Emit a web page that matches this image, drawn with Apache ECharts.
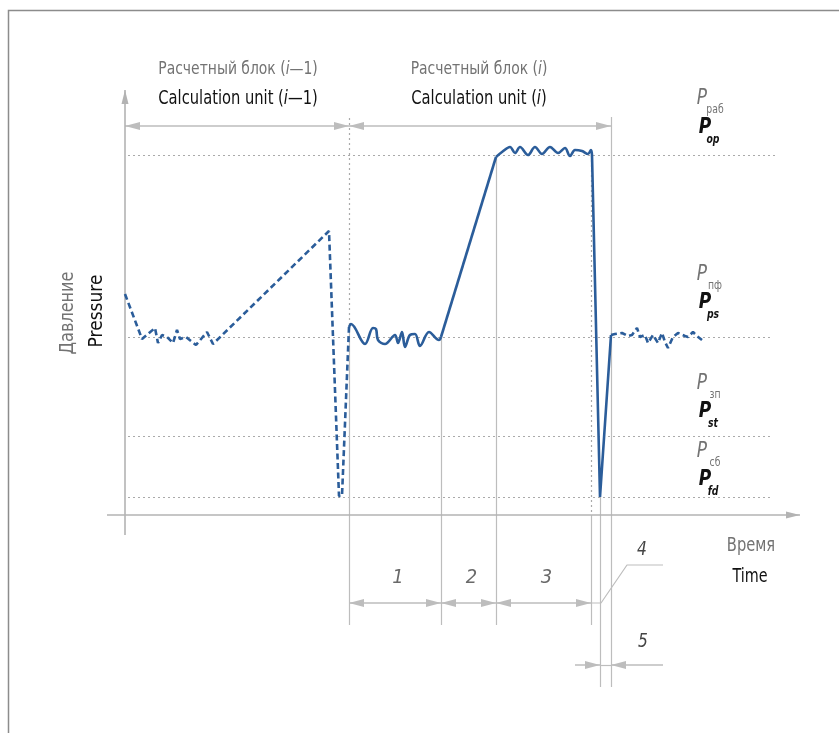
<!DOCTYPE html>
<html><head><meta charset="utf-8">
<script src="https://cdn.jsdelivr.net/npm/echarts@6/dist/echarts.min.js"></script>
<style>html,body{margin:0;padding:0;background:#fff}#c{width:839px;height:733px}</style>
</head><body><div id="c"></div>
<script>
// ---- data (time t, pressure p in arbitrary units) ----
const prevBlock = [[0.0,22.1],[1.7,17.6],[3.0,18.7],[3.3,17.2],[3.7,18.0],[4.2,17.8],[4.8,17.2],[5.2,18.5],[5.5,17.6],[6.1,17.8],[7.1,17.0],[8.2,18.3],[8.8,17.1],[20.4,28.4],[21.4,1.9],[21.7,1.9],[22.4,18.8]];
const blockWiggle1 = [[22.4,18.8],[22.6,19.1],[24.0,17.1],[24.8,18.7],[25.1,18.6],[25.3,17.5],[26.0,17.1],[27.0,18.0],[27.3,17.2],[27.7,18.3],[28.0,16.8],[28.5,18.0],[29.0,18.1],[29.5,16.9],[30.4,18.3],[31.4,17.5],[31.6,17.8]];
const blockRamp = [[31.6,17.8],[37.1,35.8]];
const blockWiggle2 = [[37.1,35.8],[37.7,36.3],[38.5,36.8],[39.0,36.2],[39.5,36.8],[40.3,36.0],[41.0,36.8],[41.7,36.1],[42.5,36.8],[43.3,36.2],[44.0,36.7],[44.5,35.9],[45.0,36.5],[45.7,36.4],[46.3,36.1],[46.6,36.5],[46.7,36.0]];
const blockDrop = [[46.7,36.0],[47.5,1.8],[48.6,18.0]];
const nextBlock = [[48.6,18.0],[49.0,18.1],[49.7,18.2],[50.3,17.9],[50.7,18.0],[51.2,18.7],[51.5,17.8],[52.0,18.0],[52.3,17.2],[52.8,18.0],[53.3,17.2],[53.7,18.2],[54.0,17.3],[54.3,16.7],[54.8,17.8],[55.3,18.2],[56.0,17.9],[56.3,17.8],[56.8,18.3],[57.2,17.9],[57.7,17.5]];

const levelKeys = ['op','ps','st','fd'];
const levelRu = ['раб','пф','зп','сб'];
const levelValues = [36.0, 17.8, 7.9, 1.8];
const levelEnds = [65.3, 64.6, 64.6, 64.6];

const blockStart = 0, blockSplit = 22.4, blockEnd = 48.6;
const stageBounds = [22.4, 31.6, 37.1, 46.6];
const stageLabels = ['1','2','3'];
const drainEnd = 47.5;       // bottom of the drop (stage 4/5 boundary)
const unitArrowP = 38.9;     // level of calculation-unit arrows
const stageArrowP = -8.8;
const stage5ArrowP = -15.0;
const leaderP = -5.0;

// ---- styles ----
const BLUE = '#2b5d9a';
const GUIDE = '#bdbdbd';
const FONT = "'Liberation Sans Narrow','DejaVu Sans Condensed','Roboto',sans-serif";
const GRAY_T = '#737373', BLACK_T = '#111';

const seg = (a, b) => [{coord: a}, {coord: b}];
function mlSeries(lines, style, sym, symSize, symOffset) {
  return {
    type: 'line', data: [], silent: true, animation: false,
    markLine: {
      silent: true, animation: false,
      symbol: sym || ['none','none'],
      symbolSize: symSize || [7, 14],
      symbolOffset: symOffset || [[0,0],[0,0]],
      label: {show: false}, emphasis: {disabled: true},
      lineStyle: style,
      data: lines
    }
  };
}

// guide lines
const dottedGuides = levelValues.map((v, i) => seg([0.3, v], [levelEnds[i], v]));
dottedGuides.push(seg([blockSplit, 39.7], [blockSplit, 19.0]));
dottedGuides.push(seg([stageBounds[3], levelValues[0]], [stageBounds[3], 0]));

const solidGuides = [
  seg([blockSplit, 19.0], [blockSplit, -11.0]),
  seg([stageBounds[1], levelValues[1]], [stageBounds[1], -11.0]),
  seg([stageBounds[2], 35.8], [stageBounds[2], -11.0]),
  seg([stageBounds[3], 0], [stageBounds[3], -11.0]),
  seg([drainEnd, levelValues[3]], [drainEnd, -17.2]),
  seg([blockEnd, 39.8], [blockEnd, -17.2]),
  seg([drainEnd, stage5ArrowP], [blockEnd, stage5ArrowP])
];

const doubleArrows = [
  seg([blockStart, unitArrowP], [blockSplit, unitArrowP]),
  seg([blockSplit, unitArrowP], [blockEnd, unitArrowP]),
  seg([stageBounds[0], stageArrowP], [stageBounds[1], stageArrowP]),
  seg([stageBounds[1], stageArrowP], [stageBounds[2], stageArrowP]),
  seg([stageBounds[2], stageArrowP], [stageBounds[3], stageArrowP])
];
const singleArrows = [
  seg([45.0, stage5ArrowP], [drainEnd, stage5ArrowP]),
  seg([53.8, stage5ArrowP], [blockEnd, stage5ArrowP])
];
const axisArrows = [
  seg([0, -2.0], [0, 42.5]),
  seg([-1.8, 0], [67.5, 0])
];
const leader4 = [[stageBounds[3], stageArrowP],[47.6, stageArrowP],[50.2, leaderP],[53.8, leaderP]];

const chart = echarts.init(document.getElementById('c'), null, {renderer: 'canvas'});

const graphic = [
  {type: 'polyline', shape: {points: [[8.5,733],[8.5,10.5],[839,10.5]]}, style: {stroke: '#8c8c8c', lineWidth: 1.5, fill: null}, silent: true},
];
function txt(x, y, text, size, fill, extra, sx) {
  return Object.assign({type: 'text', x: x, y: y, silent: true, scaleX: sx || 0.86,
    style: Object.assign({text: text, fill: fill, fontSize: size, fontFamily: FONT, align: 'center', verticalAlign: 'middle'}, extra && extra.style || {})},
    extra && extra.el || {});
}
const richI = (fill, size) => ({a: {fill: fill, fontSize: size, fontFamily: FONT}, b: {fill: fill, fontSize: size, fontFamily: FONT, fontStyle: 'italic'}});
graphic.push(txt(238, 69, '{a|Расчетный блок (}{b|i}{a|—1)}', 18, GRAY_T, {style: {rich: richI(GRAY_T, 18)}}));
graphic.push(txt(238, 99, '{a|Calculation unit (}{b|i}{a|—1)}', 19, BLACK_T, {style: {rich: richI(BLACK_T, 19)}}));
graphic.push(txt(479, 69, '{a|Расчетный блок (}{b|i}{a|)}', 18, GRAY_T, {style: {rich: richI(GRAY_T, 18)}}));
graphic.push(txt(479, 99, '{a|Calculation unit (}{b|i}{a|)}', 19, BLACK_T, {style: {rich: richI(BLACK_T, 19)}}));
graphic.push(txt(68, 313, 'Давление', 19, GRAY_T, {el: {rotation: Math.PI / 2}}, 0.94));
graphic.push(txt(97, 311, 'Pressure', 19, BLACK_T, {el: {rotation: Math.PI / 2}}, 1.0));
graphic.push(txt(751, 546, 'Время', 19, GRAY_T));
graphic.push(txt(750, 577, 'Time', 19, BLACK_T, null, 0.84));
graphic.push(txt(642, 550, '4', 20, '#444', {style: {fontStyle: 'italic'}}));
graphic.push(txt(643, 642, '5', 20, '#444', {style: {fontStyle: 'italic'}}));

const pGrayY = [98, 274, 383, 451];
const pBlackY = [127, 302, 411, 479];
levelKeys.forEach((k, i) => {
  graphic.push(txt(702, pGrayY[i], 'P', 22, GRAY_T, {style: {fontStyle: 'italic'}}));
  graphic.push(txt(715, pGrayY[i] + 12, levelRu[i], 12, GRAY_T));
  graphic.push(txt(705, pBlackY[i], 'P', 22, BLACK_T, {style: {fontStyle: 'italic', fontWeight: 'bold'}}));
  graphic.push(txt(713, pBlackY[i] + 13, k, 12, BLACK_T, {style: {fontStyle: 'italic', fontWeight: 'bold'}}));
});

const lineBase = {type: 'line', symbol: 'none', showSymbol: false, silent: true, animation: false, z: 5};

chart.setOption({
  animation: false,
  grid: {left: 0, right: 0, top: 0, bottom: 0},
  xAxis: {type: 'value', min: -12.5, max: 71.4, show: false},
  yAxis: {type: 'value', min: -21.8, max: 51.5, show: false},
  graphic: graphic,
  series: [
    mlSeries(dottedGuides, {color: '#aaaaaa', width: 1.2, type: [2, 3]}),
    mlSeries(solidGuides, {color: GUIDE, width: 1.2, type: 'solid'}),
    mlSeries(doubleArrows, {color: GUIDE, width: 1.5, type: 'solid'}, ['triangle','triangle'], [8, 15], [[0,7.5],[0,7.5]]),
    mlSeries(singleArrows, {color: GUIDE, width: 1.5, type: 'solid'}, ['none','triangle'], [8, 15], [[0,0],[0,7.5]]),
    mlSeries(axisArrows, {color: '#b3b3b3', width: 1.6, type: 'solid'}, ['none','triangle'], [7, 14], [[0,0],[0,7]]),
    Object.assign({}, lineBase, {data: leader4, lineStyle: {color: GUIDE, width: 1.2}, z: 2}),
    {type: 'scatter', silent: true, animation: false, symbolSize: 0,
      data: stageLabels.map((s, i) => ({value: [(stageBounds[i] + stageBounds[i + 1]) / 2 + 0.3, -6.3], name: s})),
      label: {show: true, position: 'inside', formatter: p => p.name, color: '#444', fontSize: 20, fontStyle: 'italic', fontFamily: FONT}},
    Object.assign({}, lineBase, {data: prevBlock, lineStyle: {color: BLUE, width: 2.6, type: [6, 3.5]}}),
    Object.assign({}, lineBase, {data: blockWiggle1, smooth: 0.35, lineStyle: {color: BLUE, width: 2.6}}),
    Object.assign({}, lineBase, {data: blockRamp, lineStyle: {color: BLUE, width: 2.6}}),
    Object.assign({}, lineBase, {data: blockWiggle2, smooth: 0.35, lineStyle: {color: BLUE, width: 2.6}}),
    Object.assign({}, lineBase, {data: blockDrop, lineStyle: {color: BLUE, width: 2.6}}),
    Object.assign({}, lineBase, {data: nextBlock, lineStyle: {color: BLUE, width: 2.6, type: [6, 3.5]}})
  ]
});
</script></body></html>
